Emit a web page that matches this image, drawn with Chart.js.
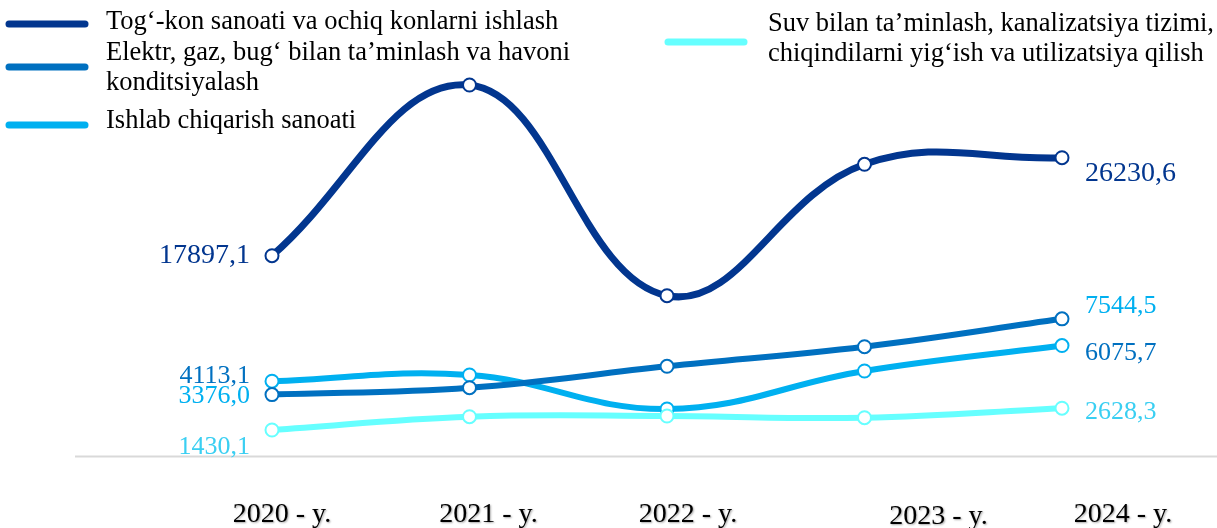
<!DOCTYPE html>
<html>
<head>
<meta charset="utf-8">
<script src="https://cdn.jsdelivr.net/npm/chart.js@4/dist/chart.umd.min.js"></script>
<style>
  html, body { margin: 0; padding: 0; background: #fff; }
  #wrap { width: 1217px; height: 528px; position: relative; }
</style>
</head>
<body>
<div id="wrap"><canvas id="chart"></canvas></div>
<script>
// categories and tick labels
const years = ['2020', '2021', '2022', '2023', '2024'];
const yearLabels = ['2020 - y.', '2021 - y.', '2022 - y.', '2023 - y.', '2024 - y.'];

// series values (mln. so'm); end points from the labels
const togKon = [17897.1, 32413, 14495, 25670, 26230.6];
const elektr = [3376.0, 3757, 4934, 6012, 7544.5];
const ishlab = [4113.1, 4455, 2585, 4675, 6075.7];
const suv = [1430.1, 2162, 2200, 2107, 2628.3];

// series names (legend lines)
const togKonName = ['Tog‘-kon sanoati va ochiq konlarni ishlash'];
const elektrName = ['Elektr, gaz, bug‘ bilan ta’minlash va havoni', 'konditsiyalash'];
const ishlabName = ['Ishlab chiqarish sanoati'];
const suvName = ['Suv bilan ta’minlash, kanalizatsiya tizimi,', 'chiqindilarni yig‘ish va utilizatsiya qilish'];

const SERIF = '"Liberation Serif", "Times New Roman", serif';
const C_TOG = '#02368F';
const C_ELEKTR = '#0070C0';
const C_ISHLAB = '#00B0F0';
const C_SUV = '#66FFFF';
const C_SUV_TEXT = '#3ACFF2';

function fmt(v) {
    return v.toFixed(1).replace('.', ',');
}

function series(label, data, color, axis, order, width) {
    return {
        label: label.join(' '),
        data: data,
        yAxisID: axis,
        order: order,
        borderColor: color,
        borderWidth: width,
        borderCapStyle: 'round',
        tension: 0.4,
        pointRadius: 6.5,
        pointBorderWidth: 2,
        pointBackgroundColor: '#fff',
        pointBorderColor: color,
        clip: false
    };
}

// thin grey baseline under the plot
const baseline = {
    id: 'baseline',
    beforeDatasetsDraw(chart) {
        const ctx = chart.ctx;
        const y = Math.round(chart.scales.y.getPixelForValue(0)) + 0.5;
        ctx.save();
        ctx.strokeStyle = '#d9d9d9';
        ctx.lineWidth = 2;
        ctx.beginPath();
        ctx.moveTo(75, y);
        ctx.lineTo(chart.width, y);
        ctx.stroke();
        ctx.restore();
    }
};

// legend drawn by hand, the layout is two columns with wrapped names
const legendBoxes = {
    id: 'legendBoxes',
    afterDraw(chart, args, opts) {
        const ctx = chart.ctx;
        ctx.save();
        ctx.textBaseline = 'alphabetic';
        opts.items.forEach(it => {
            ctx.strokeStyle = it.color;
            ctx.lineWidth = 7;
            ctx.lineCap = 'round';
            ctx.beginPath();
            ctx.moveTo(it.x + 4, it.sy);
            ctx.lineTo(it.x + 80, it.sy);
            ctx.stroke();
            ctx.font = it.size + 'px ' + SERIF;
            ctx.fillStyle = '#000';
            it.lines.forEach((t, i) => ctx.fillText(t, it.tx, it.ty + i * 30));
        });
        ctx.restore();
    }
};

// first and last value labels
const endLabels = {
    id: 'endLabels',
    afterDatasetsDraw(chart, args, opts) {
        const ctx = chart.ctx;
        ctx.save();
        ctx.textBaseline = 'middle';
        opts.items.forEach(it => {
            const meta = chart.getDatasetMeta(it.ds);
            const data = chart.data.datasets[it.ds].data;
            const first = meta.data[0];
            const last = meta.data[data.length - 1];
            ctx.font = it.size + 'px ' + SERIF;
            ctx.fillStyle = it.left[0];
            ctx.textAlign = 'right';
            ctx.fillText(fmt(data[0]), first.x - 22, first.y + it.left[1]);
            ctx.fillStyle = it.right[0];
            ctx.textAlign = 'left';
            ctx.fillText(fmt(data[data.length - 1]), last.x + 23, last.y + it.right[1]);
        });
        ctx.restore();
    }
};

// year labels under the plot, each a bit shifted like in the source
const yearTicks = {
    id: 'yearTicks',
    afterDraw(chart, args, opts) {
        const ctx = chart.ctx;
        const x = chart.scales.x;
        ctx.save();
        ctx.font = '28px ' + SERIF;
        ctx.fillStyle = '#000';
        ctx.textAlign = 'center';
        ctx.textBaseline = 'alphabetic';
        ctx.shadowColor = 'rgba(0,0,0,0.35)';
        ctx.shadowOffsetX = 1;
        ctx.shadowOffsetY = 1;
        ctx.shadowBlur = 2;
        yearLabels.forEach((t, i) => {
            ctx.fillText(t, x.getPixelForValue(i) + opts.shift[i], opts.y + opts.dy[i]);
        });
        ctx.restore();
    }
};

new Chart(document.getElementById('chart'), {
    type: 'line',
    data: {
        labels: years,
        datasets: [
            series(togKonName, togKon, C_TOG, 'y2', 0, 7),
            series(elektrName, elektr, C_ELEKTR, 'y', 2, 6),
            series(ishlabName, ishlab, C_ISHLAB, 'y', 3, 6),
            series(suvName, suv, C_SUV, 'y', 1, 6)
        ]
    },
    options: {
        responsive: true,
        maintainAspectRatio: false,
        animation: false,
        layout: { autoPadding: false, padding: { left: 272, right: 155, top: 0, bottom: 72 } },
        scales: {
            x: { display: false, offset: false },
            y: { display: false, min: 0, max: 25080 },
            y2: { display: false, min: 864, max: 39642 }
        },
        plugins: {
            legend: { display: false },
            tooltip: { enabled: false },
            legendBoxes: {
                items: [
                    { lines: togKonName, color: C_TOG, x: 5, sy: 24, tx: 106, ty: 29, size: 26.5 },
                    { lines: elektrName, color: C_ELEKTR, x: 5, sy: 67, tx: 106, ty: 60, size: 26.5 },
                    { lines: ishlabName, color: C_ISHLAB, x: 5, sy: 125, tx: 106, ty: 128, size: 26.5 },
                    { lines: suvName, color: C_SUV, x: 664, sy: 42, tx: 768, ty: 31, size: 26.5 }
                ]
            },
            endLabels: {
                items: [
                    { ds: 0, size: 28, left: [C_TOG, 0], right: [C_TOG, 16] },
                    { ds: 1, size: 26, left: [C_ISHLAB, 2], right: [C_ISHLAB, -13] },
                    { ds: 2, size: 26, left: [C_ELEKTR, -5], right: [C_ELEKTR, 8] },
                    { ds: 3, size: 26, left: [C_SUV_TEXT, 17], right: [C_SUV_TEXT, 4] }
                ]
            },
            yearTicks: {
                y: 522,
                shift: [10, 19, 21, 74, 61],
                dy: [0, 0, 0, 2, 0]
            }
        }
    },
    plugins: [baseline, legendBoxes, endLabels, yearTicks]
});
</script>
</body>
</html>
